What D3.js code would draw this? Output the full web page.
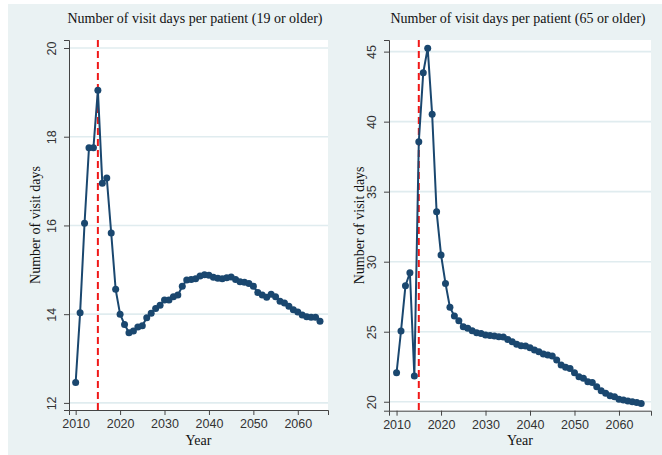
<!DOCTYPE html>
<meta charset="utf-8">
<script src="https://d3js.org/d3.v7.min.js"></script>
<style>
  body { margin: 0; background: #fff; }
</style>
<div id="chart"></div>
<script>

// data, one value per year 2010..2065
var years = d3.range(2010, 2066);

var visits19 = [12.46, 14.03, 16.05, 17.75, 17.75, 19.05, 16.95, 17.07, 15.83, 14.56,
                14.00, 13.77, 13.58, 13.62, 13.71, 13.74, 13.92, 14.02, 14.13, 14.20,
                14.32, 14.32, 14.39, 14.43, 14.63, 14.77, 14.78, 14.80, 14.86, 14.89,
                14.88, 14.83, 14.81, 14.80, 14.82, 14.84, 14.78, 14.73, 14.72, 14.69,
                14.63, 14.49, 14.43, 14.38, 14.45, 14.39, 14.29, 14.25, 14.18, 14.10,
                14.05, 13.98, 13.94, 13.93, 13.93, 13.84];

var visits65 = [22.07, 25.05, 28.28, 29.21, 21.84, 38.57, 43.50, 45.24, 40.53, 33.57,
                30.48, 28.45, 26.74, 26.12, 25.79, 25.36, 25.24, 25.07, 24.93, 24.88,
                24.76, 24.73, 24.69, 24.64, 24.62, 24.45, 24.29, 24.10, 24.00, 23.98,
                23.86, 23.69, 23.57, 23.40, 23.33, 23.26, 22.98, 22.62, 22.46, 22.38,
                22.07, 21.79, 21.67, 21.43, 21.38, 21.07, 20.79, 20.60, 20.43, 20.36,
                20.17, 20.12, 20.05, 20.00, 19.95, 19.88];

var xTicks = [2010, 2020, 2030, 2040, 2050, 2060];
var yTicks19 = [12, 14, 16, 18, 20];
var yTicks65 = [20, 25, 30, 35, 40, 45];
var policyYear = 2015;

var W = 662, H = 455;

var svg = d3.select("#chart")
  .append("svg")
    .attr("width", W)
    .attr("height", H);

// stata-like light blue background
svg.append("rect")
    .attr("x", 8).attr("y", 4)
    .attr("width", W - 8).attr("height", H - 4)
    .attr("fill", "#eaf2f3");

function drawPanel(opt) {
  var x = d3.scaleLinear().domain(opt.xDomain).range([opt.left, opt.right]);
  var y = d3.scaleLinear().domain(opt.yDomain).range([opt.bottom, opt.top]);

  // plot region
  svg.append("rect")
      .attr("x", opt.left).attr("y", opt.top)
      .attr("width", opt.right - opt.left).attr("height", opt.bottom - opt.top)
      .attr("fill", "#fff");

  // grid lines
  svg.append("g")
    .selectAll("line")
    .data(opt.yTicks)
    .enter().append("line")
      .attr("x1", opt.left).attr("x2", opt.right)
      .attr("y1", function(d) { return y(d); })
      .attr("y2", function(d) { return y(d); })
      .attr("stroke", "#e0ecef")
      .attr("stroke-width", 1.6);

  // y axis
  var ya = svg.append("g")
      .attr("transform", "translate(" + opt.left + ",0)")
      .call(d3.axisLeft(y).tickValues(opt.yTicks).tickSize(5).tickPadding(4));
  ya.select(".domain").attr("stroke", "#444");
  ya.selectAll(".tick line").attr("stroke", "#444");
  ya.selectAll(".tick text")
      .attr("transform", "rotate(-90)")
      .attr("x", 0).attr("y", -17)
      .attr("dy", "0.35em")
      .style("text-anchor", "middle")
      .style("font", "12.5px 'Liberation Sans', Arial, sans-serif")
      .attr("fill", "#333");

  // x axis
  var xa = svg.append("g")
      .attr("transform", "translate(0," + opt.bottom + ")")
      .call(d3.axisBottom(x).tickValues(xTicks).tickFormat(d3.format("d")).tickSize(5).tickPadding(4));
  xa.select(".domain").attr("stroke", "#444");
  xa.selectAll(".tick line").attr("stroke", "#444");
  xa.selectAll(".tick text")
      .style("font", "12.5px 'Liberation Sans', Arial, sans-serif")
      .attr("fill", "#333");

  // policy line
  svg.append("line")
      .attr("x1", x(policyYear)).attr("x2", x(policyYear))
      .attr("y1", opt.top).attr("y2", opt.bottom)
      .attr("stroke", "#f01818")
      .attr("stroke-width", 2)
      .attr("stroke-dasharray", "7,4");

  var pts = years.map(function(yr, i) { return [yr, opt.values[i]]; });

  svg.append("path")
      .datum(pts)
      .attr("fill", "none")
      .attr("stroke", "#1a476f")
      .attr("stroke-width", 2)
      .attr("d", d3.line()
        .x(function(d) { return x(d[0]); })
        .y(function(d) { return y(d[1]); }));

  svg.append("g")
    .selectAll("circle")
    .data(pts)
    .enter().append("circle")
      .attr("cx", function(d) { return x(d[0]); })
      .attr("cy", function(d) { return y(d[1]); })
      .attr("r", 3.5)
      .attr("fill", "#1a476f");

  // titles
  svg.append("text")
      .attr("x", (opt.titleX))
      .attr("y", 23)
      .style("text-anchor", "middle")
      .style("font", "14px 'Liberation Serif', 'Times New Roman', serif")
      .attr("fill", "#111")
      .text(opt.title);

  svg.append("text")
      .attr("transform", "translate(" + opt.yLabelX + "," + ((opt.top + opt.bottom) / 2) + ") rotate(-90)")
      .style("text-anchor", "middle")
      .style("font", "14px 'Liberation Serif', 'Times New Roman', serif")
      .attr("fill", "#111")
      .text("Number of visit days");

  svg.append("text")
      .attr("x", (opt.left + opt.right) / 2)
      .attr("y", 445)
      .style("text-anchor", "middle")
      .style("font", "14px 'Liberation Serif', 'Times New Roman', serif")
      .attr("fill", "#111")
      .text("Year");
}

drawPanel({
  left: 69, right: 328, top: 40, bottom: 410,
  xDomain: [2008.5, 2066.8], yDomain: [11.84, 20.18],
  yTicks: yTicks19, values: visits19,
  title: "Number of visit days per patient (19 or older)",
  titleX: 195, yLabelX: 40
});

drawPanel({
  left: 389, right: 651, top: 40, bottom: 410.7,
  xDomain: [2008.3, 2067.2], yDomain: [19.36, 45.83],
  yTicks: yTicks65, values: visits65,
  title: "Number of visit days per patient (65 or older)",
  titleX: 518, yLabelX: 364
});

</script>
